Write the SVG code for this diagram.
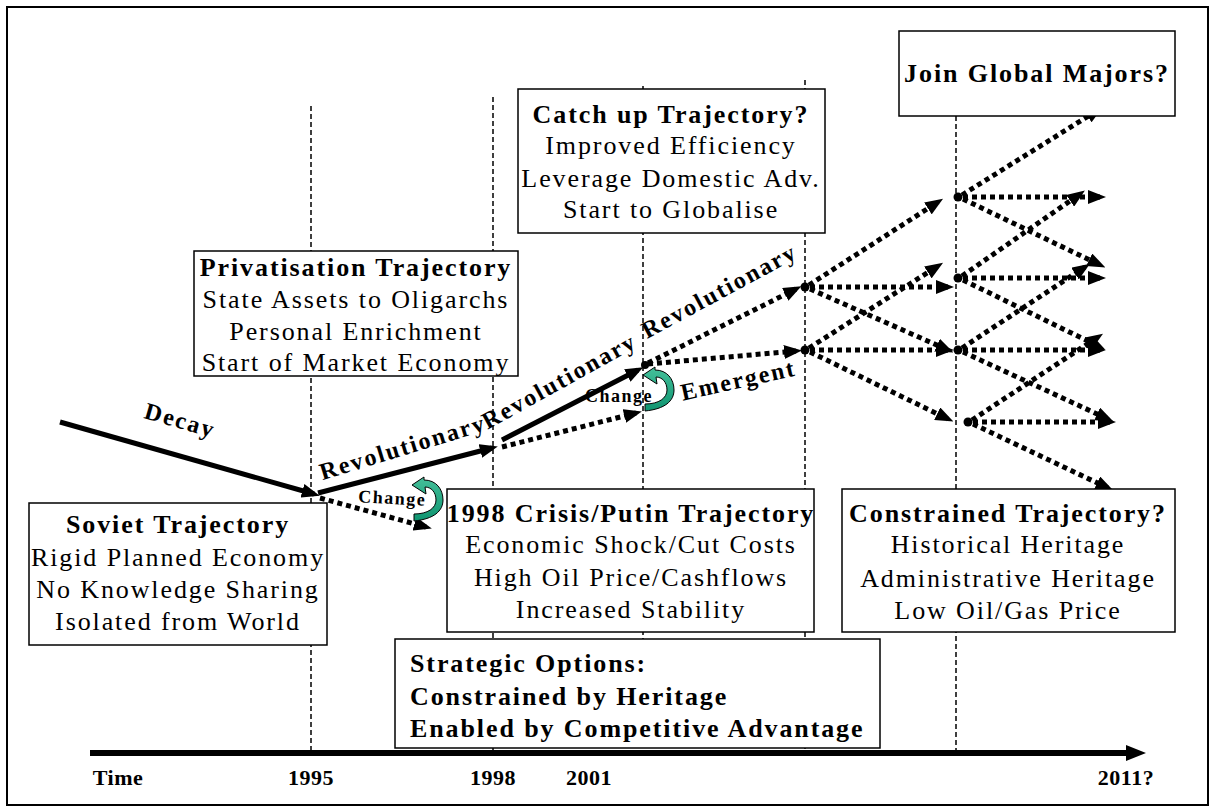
<svg xmlns="http://www.w3.org/2000/svg" width="1216" height="812" viewBox="0 0 1216 812">
<style>
.frame{fill:#fff;stroke:#000;stroke-width:2}
.box{fill:#fff;stroke:#000;stroke-width:1.5}
.t{font-family:"Liberation Serif","Times New Roman",serif;font-size:26px;letter-spacing:1.9px;text-anchor:middle;fill:#000}
.b{font-weight:bold}
.vl{stroke:#000;stroke-width:1.5;stroke-dasharray:5 3;fill:none}
.dot{stroke:#000;stroke-width:5;stroke-dasharray:5 4;fill:none;marker-end:url(#ah)}
.sol{stroke:#000;stroke-width:5;fill:none;marker-end:url(#ah)}
.lab{font-family:"Liberation Serif","Times New Roman",serif;font-weight:bold;font-size:24px;letter-spacing:2px;text-anchor:middle;fill:#000}
.chg{font-family:"Liberation Serif","Times New Roman",serif;font-weight:bold;font-size:18px;letter-spacing:1.5px;text-anchor:middle;fill:#000}
.ax{font-family:"Liberation Serif","Times New Roman",serif;font-weight:bold;font-size:22px;letter-spacing:0.5px;text-anchor:middle;fill:#000}
.curl{fill:url(#tg);stroke:#000;stroke-width:1}
.nd{fill:#000}
</style>
<defs>
<marker id="ah" markerUnits="userSpaceOnUse" markerWidth="18" markerHeight="14" viewBox="0 0 18 14" refX="12" refY="7" orient="auto"><path d="M0,0 L18,7 L0,14 Z" fill="#000"/></marker>
<marker id="axh" markerUnits="userSpaceOnUse" markerWidth="20" markerHeight="16" viewBox="0 0 20 16" refX="4" refY="8" orient="auto"><path d="M0,0 L20,8 L0,16 Z" fill="#000"/></marker>
<linearGradient id="tg" x1="0" y1="0" x2="0" y2="1"><stop offset="0" stop-color="#45c09a"/><stop offset="1" stop-color="#0e9470"/></linearGradient>
<path id="curlShape" d="M0,8 L12,0 L12,3 C24,3 31,12 31,23 C31,34 22,42 2,44 L2,37 C16,37 24,31 24,23 C24,15 19,10 13,10 L14,17 Z"/>
</defs>

<rect class="frame" x="7" y="7" width="1201" height="798"/>

<g id="gridlines">
<line class="vl" x1="311" y1="106" x2="311" y2="752"/>
<line class="vl" x1="493" y1="97" x2="493" y2="752"/>
<line class="vl" x1="643" y1="86" x2="643" y2="752"/>
<line class="vl" x1="805" y1="80" x2="805" y2="752"/>
<line class="vl" x1="956" y1="100" x2="956" y2="752"/>
</g>

<g id="axis">
<line x1="90" y1="753" x2="1130" y2="753" stroke="#000" stroke-width="6" marker-end="url(#axh)"/>
<text class="ax" x="118" y="785">Time</text>
<text class="ax" x="311" y="785">1995</text>
<text class="ax" x="493" y="785">1998</text>
<text class="ax" x="589" y="785">2001</text>
<text class="ax" x="1126" y="785">2011?</text>
</g>

<g id="labels">
<text class="lab" transform="translate(178,428) rotate(16)">Decay</text>
<text class="lab" transform="translate(405,455) rotate(-17)">Revolutionary</text>
<text class="lab" transform="translate(563,388) rotate(-29)">Revolutionary</text>
<text class="lab" transform="translate(723,298) rotate(-28.4)">Revolutionary</text>
<text class="lab" transform="translate(740,388) rotate(-12.5)">Emergent</text>
<text class="chg" transform="translate(392,504) rotate(3)">Change</text>
<text class="chg" x="619" y="402">Change</text>
</g>

<g id="connectors">
<line class="sol" x1="60" y1="422" x2="314" y2="494"/>
<line class="sol" x1="318" y1="493" x2="492" y2="448"/>
<line class="sol" x1="502" y1="440" x2="638" y2="370"/>
<line class="dot" x1="320" y1="498" x2="426" y2="527"/>
<line class="dot" x1="502" y1="447" x2="636" y2="413"/>
<line class="dot" x1="648" y1="363" x2="796" y2="289"/>
<line class="dot" x1="648" y1="364" x2="796" y2="351"/>
<line class="dot" x1="809" y1="285" x2="938" y2="202"/>
<line class="dot" x1="810" y1="287" x2="948" y2="287"/>
<line class="dot" x1="810" y1="289" x2="948" y2="350"/>
<line class="dot" x1="809" y1="348" x2="938" y2="266"/>
<line class="dot" x1="810" y1="350" x2="948" y2="350"/>
<line class="dot" x1="810" y1="352" x2="948" y2="419"/>
<line class="dot" x1="962" y1="195" x2="1098" y2="110"/>
<line class="dot" x1="963" y1="197" x2="1100" y2="197"/>
<line class="dot" x1="963" y1="199" x2="1100" y2="265"/>
<line class="dot" x1="962" y1="276" x2="1080" y2="194"/>
<line class="dot" x1="963" y1="278" x2="1100" y2="278"/>
<line class="dot" x1="963" y1="280" x2="1100" y2="347"/>
<line class="dot" x1="962" y1="348" x2="1085" y2="267"/>
<line class="dot" x1="963" y1="350" x2="1100" y2="350"/>
<line class="dot" x1="963" y1="352" x2="1108" y2="419"/>
<line class="dot" x1="972" y1="420" x2="1098" y2="337"/>
<line class="dot" x1="973" y1="422" x2="1110" y2="422"/>
<line class="dot" x1="973" y1="424" x2="1108" y2="488"/>
<circle class="nd" cx="645" cy="365" r="4"/>
<circle class="nd" cx="805" cy="287" r="4.5"/>
<circle class="nd" cx="805" cy="350" r="4.5"/>
<circle class="nd" cx="958" cy="197" r="4.5"/>
<circle class="nd" cx="958" cy="278" r="4.5"/>
<circle class="nd" cx="958" cy="350" r="4.5"/>
<circle class="nd" cx="968" cy="422" r="4.5"/>
</g>

<g id="curl1"><use href="#curlShape" class="curl" transform="translate(412,477)"/></g>
<g id="curl2"><use href="#curlShape" class="curl" transform="translate(643,367)"/></g>

<g id="join">
<rect class="box" x="899" y="31" width="276" height="85"/>
<text class="t b" x="1037" y="82">Join Global Majors?</text>
</g>

<g id="catchup">
<rect class="box" x="518" y="89" width="307" height="144"/>
<text class="t b" x="671" y="123">Catch up Trajectory?</text>
<text class="t" x="671" y="154">Improved Efficiency</text>
<text class="t" x="671" y="187">Leverage Domestic Adv.</text>
<text class="t" x="671" y="218">Start to Globalise</text>
</g>

<g id="privatisation">
<rect class="box" x="194" y="251" width="324" height="125"/>
<text class="t b" x="356" y="276">Privatisation Trajectory</text>
<text class="t" x="356" y="308">State Assets to Oligarchs</text>
<text class="t" x="356" y="340">Personal Enrichment</text>
<text class="t" x="356" y="371">Start of Market Economy</text>
</g>

<g id="soviet">
<rect class="box" x="29" y="503" width="298" height="142"/>
<text class="t b" x="178" y="533">Soviet Trajectory</text>
<text class="t" x="178" y="566">Rigid Planned Economy</text>
<text class="t" x="178" y="598">No Knowledge Sharing</text>
<text class="t" x="178" y="630">Isolated from World</text>
</g>

<g id="crisis">
<rect class="box" x="447" y="489" width="367" height="143"/>
<text class="t b" x="631" y="522">1998 Crisis/Putin Trajectory</text>
<text class="t" x="631" y="553">Economic Shock/Cut Costs</text>
<text class="t" x="631" y="586">High Oil Price/Cashflows</text>
<text class="t" x="631" y="618">Increased Stability</text>
</g>

<g id="constrained">
<rect class="box" x="842" y="489" width="333" height="143"/>
<text class="t b" x="1008" y="522">Constrained Trajectory?</text>
<text class="t" x="1008" y="553">Historical Heritage</text>
<text class="t" x="1008" y="587">Administrative Heritage</text>
<text class="t" x="1008" y="619">Low Oil/Gas Price</text>
</g>

<g id="strategic">
<rect class="box" x="395" y="639" width="485" height="109"/>
<text class="t b" x="410" y="672" style="text-anchor:start">Strategic Options:</text>
<text class="t b" x="410" y="705" style="text-anchor:start">Constrained by Heritage</text>
<text class="t b" x="410" y="737" style="text-anchor:start">Enabled by Competitive Advantage</text>
</g>
</svg>
